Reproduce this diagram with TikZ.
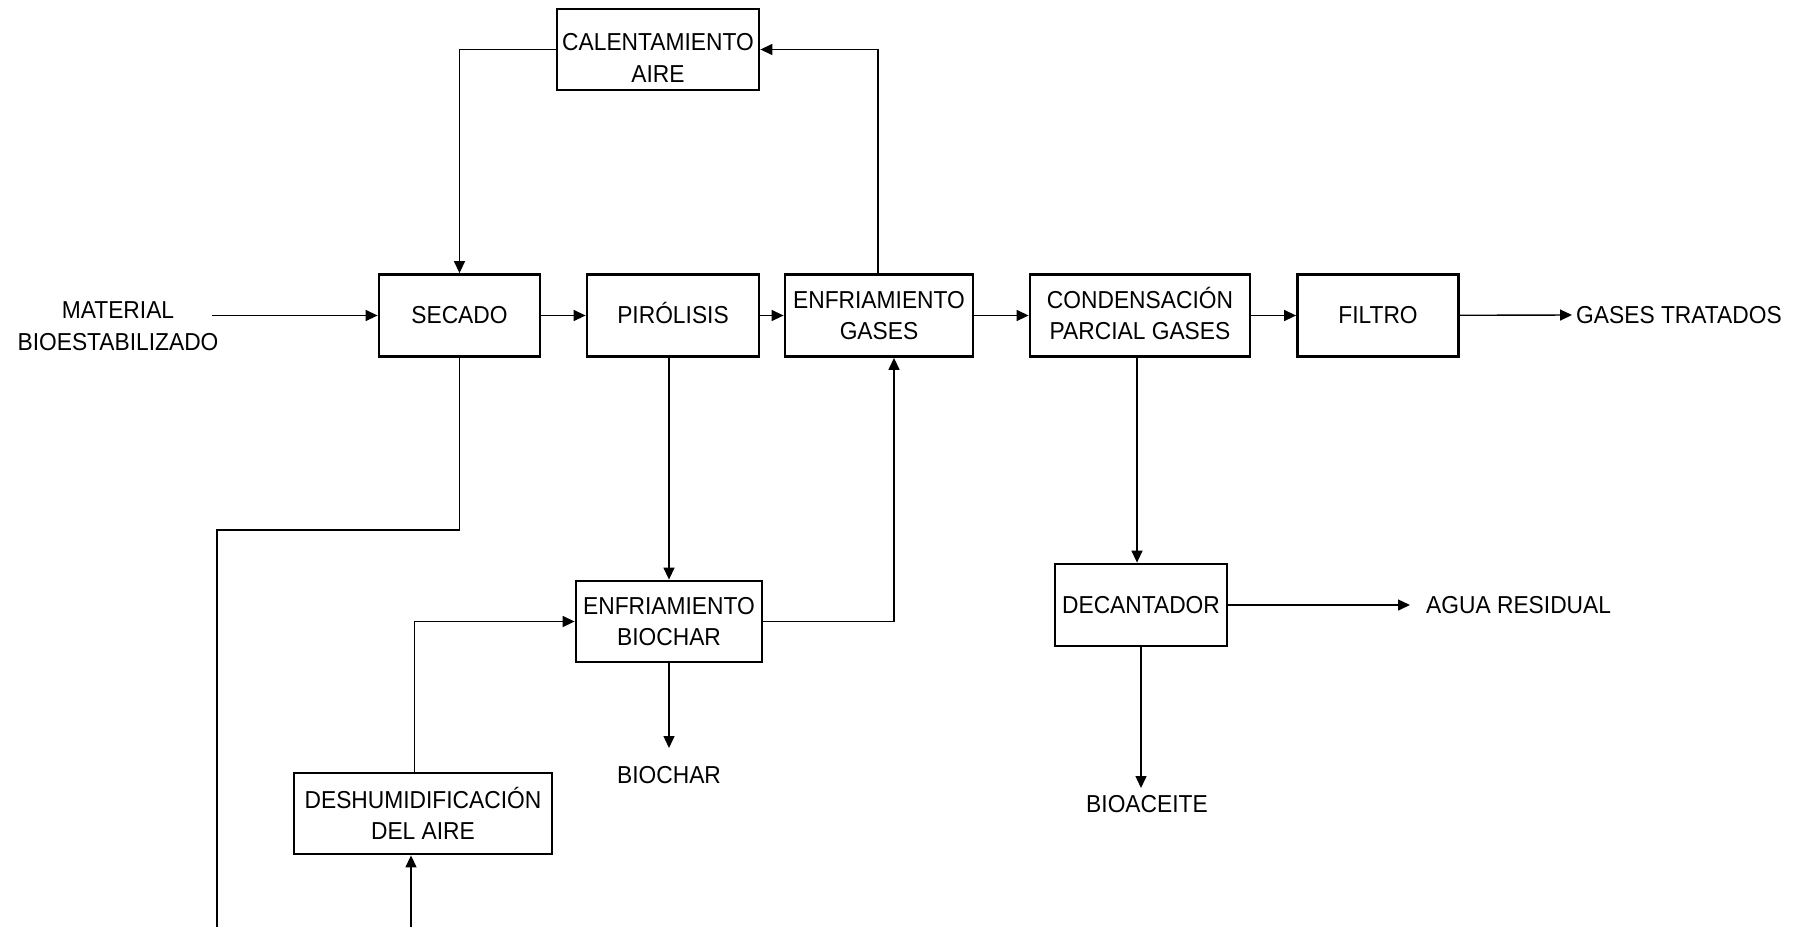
\documentclass[tikz,border=0pt]{standalone}
\usepackage{fontspec}
\setmainfont{Liberation Sans}[FakeStretch=0.93]
\usetikzlibrary{arrows.meta}

\begin{document}
\begin{tikzpicture}[x=1pt,y=-1pt,
  every node/.style={font=\fontsize{24.5}{31.6}\selectfont, align=center},
  proc/.style={draw, line width=2.8pt, inner sep=0pt, minimum height=82pt},
  lbl/.style={inner sep=0pt},
  arr/.style={line width=1.4pt, -{Triangle[length=12pt,width=11pt]}},
  ln/.style={line width=1.4pt}]
\useasboundingbox (0,0) rectangle (1800,927);

% process units
\node[proc, minimum width=202pt, minimum height=81pt] (cal) at (658,49.5) {\rule{0pt}{34pt}CALENTAMIENTO\\AIRE};
\node[proc, minimum width=161pt] (sec) at (459.5,315.5) {SECADO};
\node[proc, minimum width=172pt] (pir) at (673,315.5) {PIR\smash{Ó}LISIS};
\node[proc, minimum width=188pt] (eng) at (879,315.5) {ENFRIAMIENTO\\GASES};
\node[proc, minimum width=220pt] (con) at (1140,315.5) {CONDENSACI\smash{Ó}N\\PARCIAL GASES};
\node[proc, minimum width=161pt] (fil) at (1378,315.5) {FILTRO};
\node[proc, minimum width=186pt, minimum height=81pt] (enb) at (669,621.5) {ENFRIAMIENTO\\BIOCHAR};
\node[proc, minimum width=258pt, minimum height=81pt] (des) at (423,813.5) {DESHUMIDIFICACIÓN\\DEL AIRE};
\node[proc, minimum width=172pt] (dec) at (1141,605) {DECANTADOR};

% streams in and out
\node[lbl] (mat) at (118,326) {MATERIAL\\BIOESTABILIZADO};
\coordinate (min) at (212,315.5);
\node[lbl, anchor=west, inner xsep=4pt] (gas) at (1572,315) {GASES TRATADOS};
\node[lbl, anchor=west, inner xsep=16pt] (agua) at (1410,605) {AGUA RESIDUAL};
\node[lbl, anchor=north, inner ysep=18pt] (bch) at (669,748) {BIOCHAR};
\node[lbl, anchor=north, inner ysep=7pt] (bio) at (1147,788) {BIOACEITE};
\coordinate (bend) at (217,530);
\coordinate (out1) at (217,927);
\coordinate (in2) at (411,927);

% main line
\draw[arr] (min) -- (sec.west);
\draw[arr] (sec) -- (pir);
\draw[arr] (pir) -- (eng);
\draw[arr] (eng) -- (con);
\draw[arr] (con) -- (fil);
\draw[arr] (fil) -- (gas.west);

% hot air loop
\draw[arr] ([xshift=-1pt]eng.north) |- (cal.east);
\draw[arr] (cal.west) -| (sec.north);

% moist air leaving the dryer
\draw[ln] (sec.south) |- (bend) -- (out1);

% biochar line
\draw[arr] (pir.south -| enb.north) -- (enb.north);
\draw[arr] (enb.south) -- (enb.south |- bch.north);
\draw[arr] (enb.east) -| ([xshift=15pt]eng.south);
\draw[arr] (in2) -- (in2 |- des.south);
\draw[arr] ([xshift=-8.5pt]des.north) |- (enb.west);

% condensate line
\draw[arr] ([xshift=-3pt]con.south) -- ([xshift=-3pt]con.south |- dec.north);
\draw[arr] (dec.east) -- (agua.west);
\draw[arr] (dec.south) -- (dec.south |- bio.north);
\end{tikzpicture}
\end{document}
